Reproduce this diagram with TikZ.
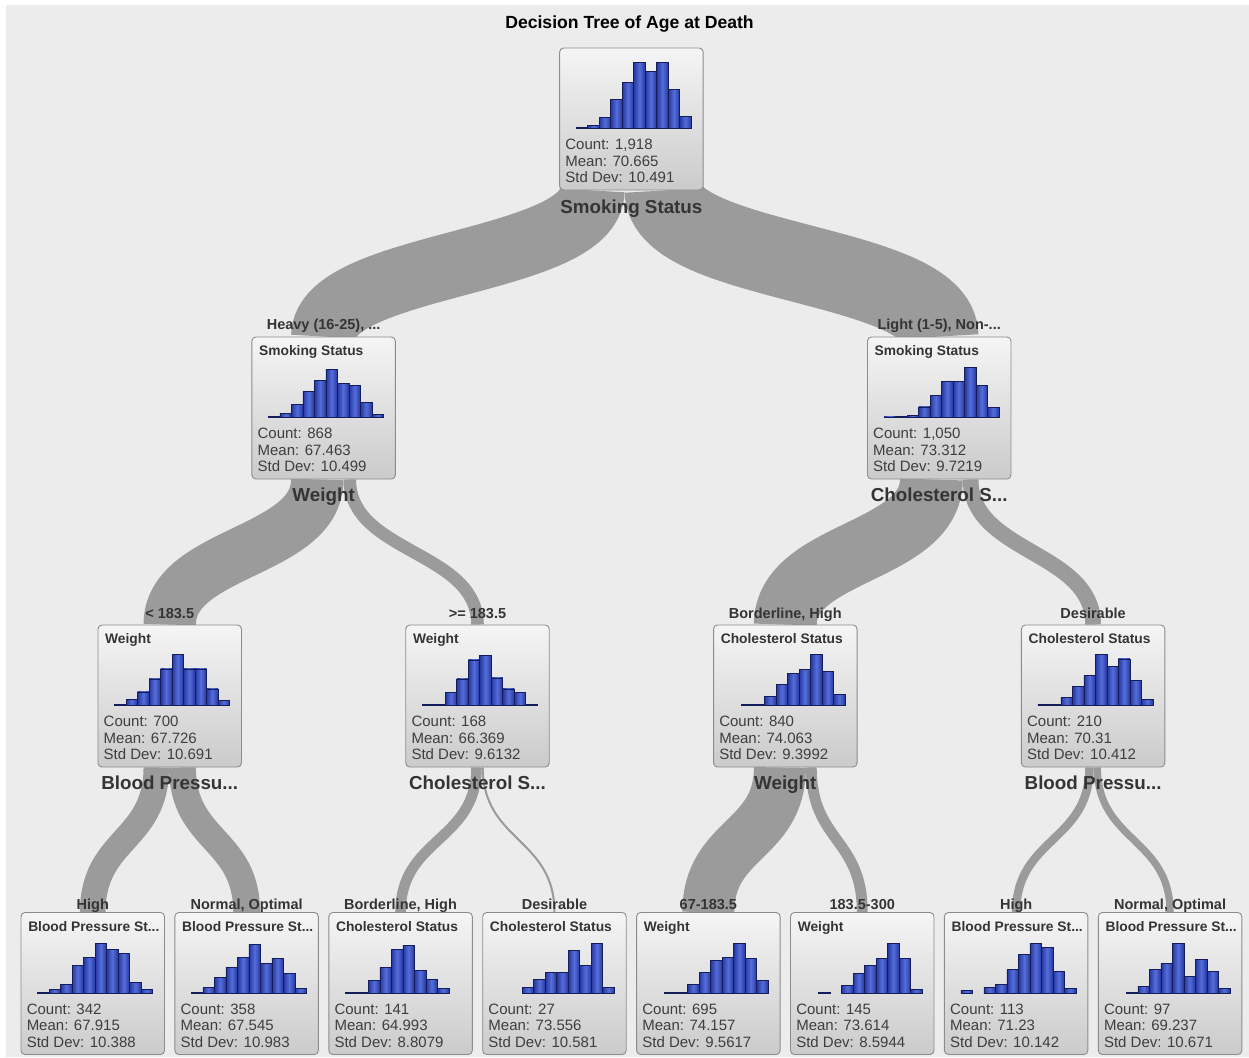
\documentclass[tikz,border=0pt]{standalone}
\usepackage{fontspec}
\setmainfont{Liberation Sans}
\usetikzlibrary{calc}
\pgfdeclarelayer{back}
\pgfdeclarelayer{flows}
\pgfsetlayers{back,flows,main}
\definecolor{bg}{RGB}{236,236,236}
\definecolor{bandc}{RGB}{155,155,155}
\definecolor{boxtop}{RGB}{245,245,245}
\definecolor{boxbot}{RGB}{203,203,203}
\definecolor{boxline}{RGB}{140,140,140}
\definecolor{barA}{RGB}{38,55,160}
\definecolor{barB}{RGB}{85,110,218}
\definecolor{barline}{RGB}{20,28,90}
\definecolor{txt}{RGB}{62,62,62}
\definecolor{hdr}{RGB}{52,52,52}
\tikzset{
  tbox/.style={rectangle, rounded corners=4pt, draw=boxline, line width=0.9pt,
    top color=boxtop, bottom color=boxbot, minimum width=143.5pt, minimum height=142pt, inner sep=0pt},
  band/.style={draw=bandc, line cap=butt},
  bar/.style={draw=barline, line width=0.7pt, left color=barA, right color=barA, middle color=barB},
  stat/.style={anchor=base west, text=txt, font=\fontsize{15}{17}\selectfont, inner sep=0pt},
  btitle/.style={anchor=base west, text=hdr, font=\bfseries\fontsize{13.8}{16}\selectfont, inner sep=0pt},
  split/.style={anchor=base, text=hdr, font=\bfseries\fontsize{18.8}{20}\selectfont, inner sep=0pt},
  branch/.style={anchor=base, text=hdr, font=\bfseries\fontsize{14.5}{16}\selectfont, inner sep=0pt},
  maintitle/.style={anchor=base, text=black, font=\bfseries\fontsize{17.6}{20}\selectfont, inner sep=0pt}
}
% #1 node, #2 title, #3 count, #4 mean, #5 sd, #6 histogram heights
\newcommand{\boxcontent}[6]{%
  \begin{scope}[shift={(#1.north west)}]
    \foreach \h [count=\i from 0] in {#6}{%
      \ifdim\h pt>0pt \path[bar] (17+11.5*\i,81) rectangle ++(11.5,-\h);\fi}
    \node[stat] (#1-c) at (6,102) {Count: #3};
    \node[stat] (#1-m) at (6,118.7) {Mean: #4};
    \node[stat] (#1-s) at (6,135.3) {Std Dev: #5};
    \node[btitle] (#1-t) at (7.5,19) {#2};
  \end{scope}}
% #1 parent, #2 child, #3 x offset at parent, #4 width
\newcommand{\flow}[4]{%
  \draw[band, line width=#4pt] ([xshift=#3pt]#1.south) .. controls +(0,74) and +(0,-74) .. (#2.north);}
\begin{document}
\begin{tikzpicture}[x=1pt,y=-1pt]
\useasboundingbox (0,0) rectangle (1249,1057);
\begin{pgfonlayer}{back}
  \fill[white] (0,0) rectangle (1249,1057);
  \fill[bg] (6,5) rectangle (1249,1057);
\end{pgfonlayer}

% boxes
\node[tbox] (root) at (631.4,119) {};
\node[tbox] (n1) at (323.6,408) {};
\node[tbox] (n2) at (939.2,408) {};
\node[tbox] (n11) at (169.7,696) {};
\node[tbox] (n12) at (477.5,696) {};
\node[tbox] (n21) at (785.3,696) {};
\node[tbox] (n22) at (1093.1,696) {};
\node[tbox] (l1) at (92.75,983.5) {};
\node[tbox] (l2) at (246.65,983.5) {};
\node[tbox] (l3) at (400.55,983.5) {};
\node[tbox] (l4) at (554.45,983.5) {};
\node[tbox] (l5) at (708.35,983.5) {};
\node[tbox] (l6) at (862.25,983.5) {};
\node[tbox] (l7) at (1016.15,983.5) {};
\node[tbox] (l8) at (1170.05,983.5) {};

% flows
\begin{pgfonlayer}{flows}
  \flow{root}{n1}{-39.3}{64.93}
  \flow{root}{n2}{32.5}{78.54}
  \flow{n1}{n11}{-6.28}{52.36}
  \flow{n1}{n12}{26.18}{12.57}
  \flow{n2}{n21}{-7.85}{62.83}
  \flow{n2}{n22}{31.41}{15.71}
  \flow{n11}{l1}{-13.39}{25.58}
  \flow{n11}{l2}{12.79}{26.78}
  \flow{n12}{l3}{-1.01}{10.55}
  \flow{n12}{l4}{5.28}{2.02}
  \flow{n21}{l5}{-5.42}{51.99}
  \flow{n21}{l6}{25.99}{10.85}
  \flow{n22}{l7}{-3.63}{8.45}
  \flow{n22}{l8}{4.22}{7.26}
\end{pgfonlayer}

% contents
\boxcontent{root}{}{1,918}{70.665}{10.491}{1,3,11,29,46,66,57,66,39,12}
\boxcontent{n1}{Smoking Status}{868}{67.463}{10.499}{1,4,13,26,37,48,34,32,15,3}
\boxcontent{n2}{Smoking Status}{1,050}{73.312}{9.7219}{0.7,1,2.3,10.7,22,36,36.3,50,32,10}
\boxcontent{n11}{Weight}{700}{67.726}{10.691}{1,6,13.7,26.7,36.7,51,36.7,36.7,16.7,5}
\boxcontent{n12}{Weight}{168}{66.369}{9.6132}{1,1,13.3,26.7,45.7,50,27.7,16.7,13.3,1}
\boxcontent{n21}{Cholesterol Status}{840}{74.063}{9.3992}{0,1,1,9.3,21,32,36,51,34.3,11}
\boxcontent{n22}{Cholesterol Status}{210}{70.31}{10.412}{1,1.5,8.3,19.3,30,51,39.3,46.7,25,6}
\boxcontent{l1}{Blood Pressure St...}{342}{67.915}{10.388}{1,4,9,27.3,35.7,50,43.3,40,10.7,4}
\boxcontent{l2}{Blood Pressure St...}{358}{67.545}{10.983}{0.7,5.7,16,25.7,35.7,49,29.3,35,20,5}
\boxcontent{l3}{Cholesterol Status}{141}{64.993}{8.8079}{1,1,12.3,25.7,43.3,47.7,22.3,13.3,5,0}
\boxcontent{l4}{Cholesterol Status}{27}{73.556}{10.581}{0,0,5.7,13.3,20.7,20.7,42.3,27.3,50,5.7}
\boxcontent{l5}{Weight}{695}{74.157}{9.5617}{0,0.7,1,9,20.7,32.3,35.7,50,35,12.3}
\boxcontent{l6}{Weight}{145}{73.614}{8.5944}{0,1,0,7.3,20,27.3,35,50,35,4}
\boxcontent{l7}{Blood Pressure St...}{113}{71.23}{10.142}{2.3,0,5.7,9,23.3,38.3,50,46,21.7,4.7}
\boxcontent{l8}{Blood Pressure St...}{97}{69.237}{10.671}{0,0.5,6.7,23.3,29.3,50,16.7,33.3,21.7,5}

% split labels
\node[split] (sroot) at ([yshift=-23pt]root.south) {Smoking Status};
\node[split] (sn1) at ([yshift=-22pt]n1.south) {Weight};
\node[split] (sn2) at ([yshift=-22pt]n2.south) {Cholesterol S...};
\node[split] (sn11) at ([yshift=-22pt]n11.south) {Blood Pressu...};
\node[split] (sn12) at ([yshift=-22pt]n12.south) {Cholesterol S...};
\node[split] (sn21) at ([yshift=-22pt]n21.south) {Weight};
\node[split] (sn22) at ([yshift=-22pt]n22.south) {Blood Pressu...};

% branch labels
\node[branch] (bn1) at ([yshift=7pt]n1.north) {Heavy (16-25), ...};
\node[branch] (bn2) at ([yshift=7pt]n2.north) {Light (1-5), Non-...};
\node[branch] (bn11) at ([yshift=6.5pt]n11.north) {< 183.5};
\node[branch] (bn12) at ([yshift=6.5pt]n12.north) {>= 183.5};
\node[branch] (bn21) at ([yshift=6.5pt]n21.north) {Borderline, High};
\node[branch] (bn22) at ([yshift=6.5pt]n22.north) {Desirable};
\node[branch] (bl1) at ([yshift=2.5pt]l1.north) {High};
\node[branch] (bl2) at ([yshift=2.5pt]l2.north) {Normal, Optimal};
\node[branch] (bl3) at ([yshift=2.5pt]l3.north) {Borderline, High};
\node[branch] (bl4) at ([yshift=2.5pt]l4.north) {Desirable};
\node[branch] (bl5) at ([yshift=2.5pt]l5.north) {67-183.5};
\node[branch] (bl6) at ([yshift=2.5pt]l6.north) {183.5-300};
\node[branch] (bl7) at ([yshift=2.5pt]l7.north) {High};
\node[branch] (bl8) at ([yshift=2.5pt]l8.north) {Normal, Optimal};

\node[maintitle] (title) at (629.5,28.3) {Decision Tree of Age at Death};
\end{tikzpicture}
\end{document}
